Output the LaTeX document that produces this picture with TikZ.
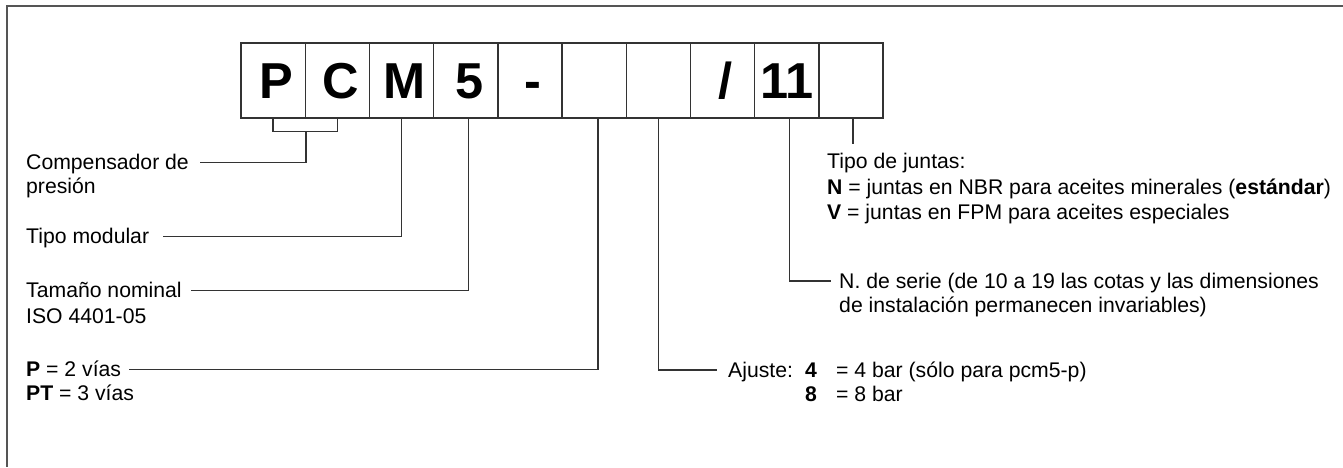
\documentclass[tikz,border=0pt]{standalone}
\usepackage{fontspec}
\setmainfont{Liberation Sans}
\definecolor{linec}{HTML}{333333}
\definecolor{framec}{HTML}{555555}
\tikzset{
  cell/.style={draw=linec, line width=1.4pt, minimum width=64.2pt, minimum height=75pt,
    inner sep=0pt, text height=36pt, text depth=0pt, font=\fontsize{50.5}{50}\selectfont\bfseries},
  txt/.style={inner sep=0pt, text height=14pt, text depth=0pt,
    font=\fontsize{21.2}{24}\selectfont, anchor=base west},
  conn/.style={draw=linec, line width=1.3pt},
  framel/.style={draw=framec, line width=1.6pt}
}
\newcommand{\shiftr}{\hspace*{7pt}}
\begin{document}
\begin{tikzpicture}[x=1pt,y=-1pt]
\useasboundingbox (0,0) rectangle (1343,467);
% frame
\coordinate (ftr) at (1343,6);
\coordinate (ftl) at (7,6);
\coordinate (fbl) at (7,467);
\draw[framel] (ftr) -- (ftl) -- (fbl);
% code boxes
\node[cell] (b1) at (273.1,80.5) {\shiftr P};
\node[cell] (b2) at (337.3,80.5) {\shiftr C};
\node[cell] (b3) at (401.5,80.5) {\shiftr M};
\node[cell] (b4) at (465.7,80.5) {\shiftr 5};
\node[cell] (b5) at (529.9,80.5) {\shiftr -};
\node[cell] (b6) at (594.1,80.5) {};
\node[cell] (b7) at (658.3,80.5) {};
\node[cell] (b8) at (722.5,80.5) {\shiftr /};
\node[cell] (b9) at (786.7,80.5) {11};
\node[cell] (b10) at (850.9,80.5) {};
% left labels
\node[txt] (comp1) at (26,169.3) {Compensador de};
\node[txt] (comp2) at (26,193.3) {presión};
\node[txt] (tmod) at (26,243.5) {Tipo modular};
\node[txt] (tam1) at (26,297.7) {Tamaño nominal};
\node[txt] (tam2) at (26,323) {ISO 4401-05};
\node[txt] (pv1) at (26,376.7) {\textbf{P} = 2 vías};
\node[txt] (pv2) at (26,400) {\textbf{PT} = 3 vías};
% right labels
\node[txt] (tj1) at (827,168.3) {Tipo de juntas:};
\node[txt] (tj2) at (827,194) {\textbf{N} = juntas en NBR para aceites minerales (\textbf{estándar})};
\node[txt] (tj3) at (827,219.3) {\textbf{V} = juntas en FPM para aceites especiales};
\node[txt] (ns1) at (839,288) {N. de serie (de 10 a 19 las cotas y las dimensiones};
\node[txt] (ns2) at (839,312) {de instalación permanecen invariables)};
\node[txt] (aj) at (728,377) {Ajuste:};
\node[txt] (aj4) at (805,377) {\textbf{4}};
\node[txt] (aj4t) at (836,377) {= 4 bar (sólo para pcm5-p)};
\node[txt] (aj8) at (805,401) {\textbf{8}};
\node[txt] (aj8t) at (836,401) {= 8 bar};
% connectors
\coordinate (br) at ([yshift=-13pt]b1.south east);
\draw[conn] (b1.south) |- (br) -| (b2.south);
\draw[conn] (br) |- ([xshift=11pt]comp1.east);
\draw[conn] (b3.south) |- ([xshift=14pt]tmod.east);
\draw[conn] ([xshift=2.6pt]b4.south) |- ([xshift=9pt]tam1.east);
\draw[conn] ([xshift=4pt]b6.south) |- ([xshift=8pt]pv1.east);
\draw[conn] (b7.south) |- ([xshift=-11pt]aj.west);
\draw[conn] ([xshift=3pt]b9.south) |- ([xshift=-8pt]ns1.west);
\coordinate (jt) at ([xshift=2pt,yshift=-25pt]b10.south);
\draw[conn] ([xshift=2pt]b10.south) -- (jt);
\end{tikzpicture}
\end{document}
